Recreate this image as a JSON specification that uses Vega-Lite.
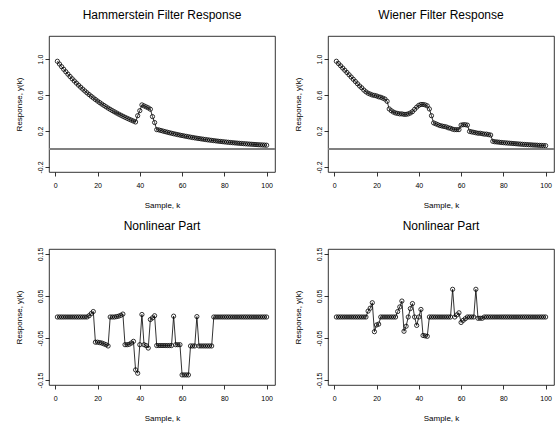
{
  "$schema": "https://vega.github.io/schema/vega-lite/v6.json",
  "background": "white",
  "padding": {"left": 14, "top": 8, "right": 0, "bottom": 0},
  "config": {
    "font": "Liberation Sans",
    "view": {"stroke": "black", "strokeWidth": 0.8},
    "axis": {"domain": false, "grid": false, "tickColor": "black", "tickSize": 4, "tickWidth": 0.8, "labelColor": "black", "labelFontSize": 7, "titleFontSize": 8, "titleFontWeight": "normal", "titleColor": "black", "labelFont": "Liberation Sans", "titleFont": "Liberation Sans", "labelFlush": false, "labelOverlap": false, "labelBound": false},
    "title": {"fontSize": 12, "fontWeight": "normal", "font": "Liberation Sans", "color": "black", "offset": 14}
  },
  "data": {"values": [
    {"k":1,"h":0.975,"w":0.975,"hn":0,"wn":0},
    {"k":2,"h":0.9445,"w":0.95,"hn":0,"wn":0},
    {"k":3,"h":0.9149,"w":0.925,"hn":0,"wn":0},
    {"k":4,"h":0.8863,"w":0.9,"hn":0,"wn":0},
    {"k":5,"h":0.8585,"w":0.875,"hn":0,"wn":0},
    {"k":6,"h":0.8317,"w":0.85,"hn":0,"wn":0},
    {"k":7,"h":0.8056,"w":0.825,"hn":0,"wn":0},
    {"k":8,"h":0.7804,"w":0.8,"hn":0,"wn":0},
    {"k":9,"h":0.756,"w":0.775,"hn":0,"wn":0},
    {"k":10,"h":0.7323,"w":0.75,"hn":0,"wn":0},
    {"k":11,"h":0.7094,"w":0.725,"hn":0,"wn":0},
    {"k":12,"h":0.6872,"w":0.7,"hn":0,"wn":0},
    {"k":13,"h":0.6657,"w":0.68,"hn":0,"wn":0},
    {"k":14,"h":0.6448,"w":0.655,"hn":0,"wn":0},
    {"k":15,"h":0.6246,"w":0.635,"hn":0,"wn":0},
    {"k":16,"h":0.6051,"w":0.62,"hn":0.003,"wn":0.014},
    {"k":17,"h":0.5861,"w":0.61,"hn":0.008,"wn":0.021},
    {"k":18,"h":0.5678,"w":0.6,"hn":0.013,"wn":0.034},
    {"k":19,"h":0.55,"w":0.595,"hn":-0.06,"wn":-0.035},
    {"k":20,"h":0.5328,"w":0.59,"hn":-0.06,"wn":-0.019},
    {"k":21,"h":0.5161,"w":0.58,"hn":-0.061,"wn":-0.017},
    {"k":22,"h":0.4999,"w":0.575,"hn":-0.062,"wn":0},
    {"k":23,"h":0.4843,"w":0.565,"hn":-0.064,"wn":0},
    {"k":24,"h":0.4691,"w":0.555,"hn":-0.066,"wn":0},
    {"k":25,"h":0.4544,"w":0.53,"hn":-0.069,"wn":0},
    {"k":26,"h":0.4402,"w":0.445,"hn":0,"wn":0},
    {"k":27,"h":0.4264,"w":0.425,"hn":0,"wn":0},
    {"k":28,"h":0.4131,"w":0.41,"hn":0,"wn":0},
    {"k":29,"h":0.4001,"w":0.4,"hn":0.001,"wn":0},
    {"k":30,"h":0.3876,"w":0.395,"hn":0.002,"wn":0.013},
    {"k":31,"h":0.3755,"w":0.39,"hn":0.004,"wn":0.024},
    {"k":32,"h":0.3637,"w":0.39,"hn":0.007,"wn":0.038},
    {"k":33,"h":0.3523,"w":0.385,"hn":-0.066,"wn":-0.034},
    {"k":34,"h":0.3413,"w":0.385,"hn":-0.066,"wn":-0.022},
    {"k":35,"h":0.3306,"w":0.39,"hn":-0.065,"wn":0},
    {"k":36,"h":0.3203,"w":0.4,"hn":-0.062,"wn":0.02},
    {"k":37,"h":0.3102,"w":0.415,"hn":-0.058,"wn":0.032},
    {"k":38,"h":0.3005,"w":0.44,"hn":-0.126,"wn":0},
    {"k":39,"h":0.37,"w":0.465,"hn":-0.134,"wn":-0.02},
    {"k":40,"h":0.426,"w":0.485,"hn":-0.066,"wn":0},
    {"k":41,"h":0.49,"w":0.495,"hn":0.006,"wn":0.018},
    {"k":42,"h":0.479,"w":0.495,"hn":-0.066,"wn":-0.044},
    {"k":43,"h":0.468,"w":0.49,"hn":-0.068,"wn":-0.045},
    {"k":44,"h":0.457,"w":0.48,"hn":-0.074,"wn":-0.046},
    {"k":45,"h":0.442,"w":0.445,"hn":-0.006,"wn":0},
    {"k":46,"h":0.36,"w":0.37,"hn":-0.002,"wn":0},
    {"k":47,"h":0.294,"w":0.29,"hn":0.003,"wn":0},
    {"k":48,"h":0.215,"w":0.28,"hn":-0.068,"wn":0},
    {"k":49,"h":0.2118,"w":0.27,"hn":-0.068,"wn":0},
    {"k":50,"h":0.2052,"w":0.26,"hn":-0.068,"wn":0},
    {"k":51,"h":0.1987,"w":0.255,"hn":-0.068,"wn":0},
    {"k":52,"h":0.1925,"w":0.25,"hn":-0.068,"wn":0},
    {"k":53,"h":0.1865,"w":0.245,"hn":-0.068,"wn":0},
    {"k":54,"h":0.1806,"w":0.235,"hn":-0.068,"wn":0},
    {"k":55,"h":0.175,"w":0.23,"hn":-0.068,"wn":0},
    {"k":56,"h":0.1695,"w":0.22,"hn":0.002,"wn":0.066},
    {"k":57,"h":0.1642,"w":0.215,"hn":-0.066,"wn":0},
    {"k":58,"h":0.1591,"w":0.215,"hn":-0.066,"wn":0.005},
    {"k":59,"h":0.1541,"w":0.215,"hn":-0.066,"wn":0.01},
    {"k":60,"h":0.1493,"w":0.265,"hn":-0.138,"wn":-0.013},
    {"k":61,"h":0.1446,"w":0.27,"hn":-0.138,"wn":-0.008},
    {"k":62,"h":0.1401,"w":0.27,"hn":-0.138,"wn":-0.004},
    {"k":63,"h":0.1357,"w":0.265,"hn":-0.138,"wn":0},
    {"k":64,"h":0.1314,"w":0.195,"hn":-0.069,"wn":0},
    {"k":65,"h":0.1273,"w":0.19,"hn":-0.069,"wn":0},
    {"k":66,"h":0.1233,"w":0.185,"hn":-0.069,"wn":0},
    {"k":67,"h":0.1195,"w":0.18,"hn":0.001,"wn":0.066},
    {"k":68,"h":0.1157,"w":0.175,"hn":-0.069,"wn":-0.003},
    {"k":69,"h":0.1121,"w":0.175,"hn":-0.069,"wn":-0.003},
    {"k":70,"h":0.1086,"w":0.17,"hn":-0.069,"wn":-0.003},
    {"k":71,"h":0.1052,"w":0.165,"hn":-0.069,"wn":0},
    {"k":72,"h":0.1019,"w":0.165,"hn":-0.069,"wn":0},
    {"k":73,"h":0.0987,"w":0.16,"hn":-0.069,"wn":0},
    {"k":74,"h":0.0956,"w":0.155,"hn":-0.069,"wn":0},
    {"k":75,"h":0.0926,"w":0.085,"hn":0,"wn":0},
    {"k":76,"h":0.0897,"w":0.08,"hn":0,"wn":0},
    {"k":77,"h":0.0869,"w":0.078,"hn":0,"wn":0},
    {"k":78,"h":0.0842,"w":0.075,"hn":0,"wn":0},
    {"k":79,"h":0.0816,"w":0.072,"hn":0,"wn":0},
    {"k":80,"h":0.079,"w":0.07,"hn":0,"wn":0},
    {"k":81,"h":0.0765,"w":0.068,"hn":0,"wn":0},
    {"k":82,"h":0.0741,"w":0.066,"hn":0,"wn":0},
    {"k":83,"h":0.0718,"w":0.064,"hn":0,"wn":0},
    {"k":84,"h":0.0696,"w":0.062,"hn":0,"wn":0},
    {"k":85,"h":0.0674,"w":0.06,"hn":0,"wn":0},
    {"k":86,"h":0.0653,"w":0.058,"hn":0,"wn":0},
    {"k":87,"h":0.0632,"w":0.056,"hn":0,"wn":0},
    {"k":88,"h":0.0613,"w":0.054,"hn":0,"wn":0},
    {"k":89,"h":0.0593,"w":0.052,"hn":0,"wn":0},
    {"k":90,"h":0.0575,"w":0.05,"hn":0,"wn":0},
    {"k":91,"h":0.0557,"w":0.049,"hn":0,"wn":0},
    {"k":92,"h":0.0539,"w":0.047,"hn":0,"wn":0},
    {"k":93,"h":0.0522,"w":0.046,"hn":0,"wn":0},
    {"k":94,"h":0.0506,"w":0.044,"hn":0,"wn":0},
    {"k":95,"h":0.049,"w":0.043,"hn":0,"wn":0},
    {"k":96,"h":0.0475,"w":0.042,"hn":0,"wn":0},
    {"k":97,"h":0.046,"w":0.04,"hn":0,"wn":0},
    {"k":98,"h":0.0446,"w":0.039,"hn":0,"wn":0},
    {"k":99,"h":0.0432,"w":0.038,"hn":0,"wn":0},
    {"k":100,"h":0.0418,"w":0.037,"hn":0,"wn":0}
  ]},
  "columns": 2,
  "spacing": {"row": 9, "column": 16},
  "concat": [
    {
      "title": "Hammerstein Filter Response",
      "width": 226, "height": 136,
      "layer": [
        {"mark": {"type": "line", "color": "black", "strokeWidth": 0.8},
         "encoding": {
           "x": {"field": "k", "type": "quantitative", "scale": {"domain": [-2.96, 103.96], "nice": false, "zero": false}, "axis": {"values": [0,20,40,60,80,100], "title": "Sample, k", "labelPadding": 5, "titlePadding": 13}},
           "y": {"field": "h", "type": "quantitative", "scale": {"domain": [-0.256, 1.256], "nice": false, "zero": false}, "axis": {"values": [-0.2,0,0.2,0.4,0.6,0.8,1,1.2], "title": "Response, y(k)", "labelAngle": -90, "labelAlign": "center", "labelBaseline": "bottom", "labelPadding": 2, "titlePadding": 13, "labelExpr": "datum.value < -0.1 ? '-0.2' : (abs(datum.value-0.2)<0.01 ? '0.2' : (abs(datum.value-0.6)<0.01 ? '0.6' : (abs(datum.value-1)<0.01 ? '1.0' : '')))"}}
         }},
        {"mark": {"type": "point", "color": "black", "filled": false, "size": 18, "strokeWidth": 0.8, "opacity": 1},
         "encoding": {"x": {"field": "k", "type": "quantitative"}, "y": {"field": "h", "type": "quantitative"}}},
        {"mark": {"type": "rule", "color": "#808080", "strokeWidth": 1.5},
         "encoding": {"y": {"datum": 0, "type": "quantitative"}}}
      ]
    },
    {
      "title": "Wiener Filter Response",
      "width": 226, "height": 136,
      "layer": [
        {"mark": {"type": "line", "color": "black", "strokeWidth": 0.8},
         "encoding": {
           "x": {"field": "k", "type": "quantitative", "scale": {"domain": [-2.96, 103.96], "nice": false, "zero": false}, "axis": {"values": [0,20,40,60,80,100], "title": "Sample, k", "labelPadding": 5, "titlePadding": 13}},
           "y": {"field": "w", "type": "quantitative", "scale": {"domain": [-0.256, 1.256], "nice": false, "zero": false}, "axis": {"values": [-0.2,0,0.2,0.4,0.6,0.8,1,1.2], "title": "Response, y(k)", "labelAngle": -90, "labelAlign": "center", "labelBaseline": "bottom", "labelPadding": 2, "titlePadding": 13, "labelExpr": "datum.value < -0.1 ? '-0.2' : (abs(datum.value-0.2)<0.01 ? '0.2' : (abs(datum.value-0.6)<0.01 ? '0.6' : (abs(datum.value-1)<0.01 ? '1.0' : '')))"}}
         }},
        {"mark": {"type": "point", "color": "black", "filled": false, "size": 18, "strokeWidth": 0.8, "opacity": 1},
         "encoding": {"x": {"field": "k", "type": "quantitative"}, "y": {"field": "w", "type": "quantitative"}}},
        {"mark": {"type": "rule", "color": "#808080", "strokeWidth": 1.5},
         "encoding": {"y": {"datum": 0, "type": "quantitative"}}}
      ]
    },
    {
      "title": "Nonlinear Part",
      "width": 226, "height": 136,
      "layer": [
        {"mark": {"type": "line", "color": "black", "strokeWidth": 0.8},
         "encoding": {
           "x": {"field": "k", "type": "quantitative", "scale": {"domain": [-2.96, 103.96], "nice": false, "zero": false}, "axis": {"values": [0,20,40,60,80,100], "title": "Sample, k", "labelPadding": 5, "titlePadding": 13}},
           "y": {"field": "hn", "type": "quantitative", "scale": {"domain": [-0.162, 0.162], "nice": false, "zero": false}, "axis": {"values": [-0.15,-0.1,-0.05,0,0.05,0.1,0.15], "title": "Response, y(k)", "labelAngle": -90, "labelAlign": "center", "labelBaseline": "bottom", "labelPadding": 2, "titlePadding": 13, "labelExpr": "datum.value < -0.12 ? '-0.15' : (abs(datum.value+0.05)<0.001 ? '-0.05' : (abs(datum.value-0.05)<0.001 ? '0.05' : (datum.value > 0.12 ? '0.15' : '')))"}}
         }},
        {"mark": {"type": "point", "color": "black", "filled": false, "size": 18, "strokeWidth": 0.8, "opacity": 1},
         "encoding": {"x": {"field": "k", "type": "quantitative"}, "y": {"field": "hn", "type": "quantitative"}}}
      ]
    },
    {
      "title": "Nonlinear Part",
      "width": 226, "height": 136,
      "layer": [
        {"mark": {"type": "line", "color": "black", "strokeWidth": 0.8},
         "encoding": {
           "x": {"field": "k", "type": "quantitative", "scale": {"domain": [-2.96, 103.96], "nice": false, "zero": false}, "axis": {"values": [0,20,40,60,80,100], "title": "Sample, k", "labelPadding": 5, "titlePadding": 13}},
           "y": {"field": "wn", "type": "quantitative", "scale": {"domain": [-0.162, 0.162], "nice": false, "zero": false}, "axis": {"values": [-0.15,-0.1,-0.05,0,0.05,0.1,0.15], "title": "Response, y(k)", "labelAngle": -90, "labelAlign": "center", "labelBaseline": "bottom", "labelPadding": 2, "titlePadding": 13, "labelExpr": "datum.value < -0.12 ? '-0.15' : (abs(datum.value+0.05)<0.001 ? '-0.05' : (abs(datum.value-0.05)<0.001 ? '0.05' : (datum.value > 0.12 ? '0.15' : '')))"}}
         }},
        {"mark": {"type": "point", "color": "black", "filled": false, "size": 18, "strokeWidth": 0.8, "opacity": 1},
         "encoding": {"x": {"field": "k", "type": "quantitative"}, "y": {"field": "wn", "type": "quantitative"}}}
      ]
    }
  ]
}
